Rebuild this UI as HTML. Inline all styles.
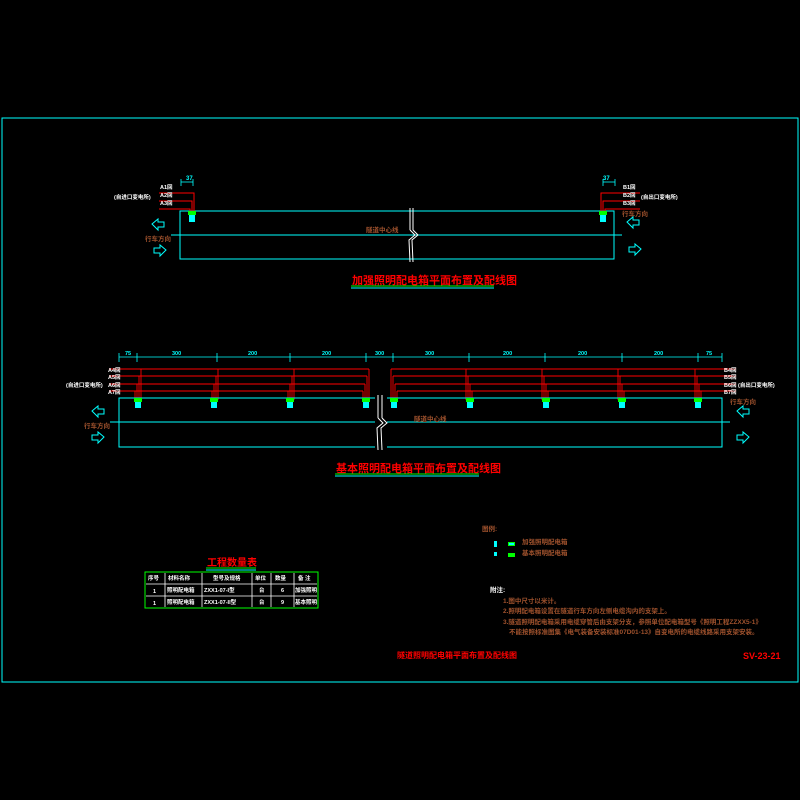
<!DOCTYPE html>
<html><head><meta charset="utf-8"><style>
html,body{margin:0;padding:0;background:#000;width:800px;height:800px;overflow:hidden}
text{font-family:"Liberation Sans","Noto Sans CJK SC",sans-serif;font-weight:bold}
</style></head><body>
<svg width="800" height="800" xmlns="http://www.w3.org/2000/svg">
<rect x="0" y="0" width="800" height="800" fill="#000"/>
<rect x="2" y="118" width="796" height="564" fill="none" stroke="#00ffff" stroke-width="1"/>

<!-- TOP DIAGRAM -->
<g stroke="#00ffff" fill="none" stroke-width="1">
<rect x="180" y="211" width="434" height="48"/>
<line x1="171" y1="235" x2="622" y2="235"/>
</g>
<g stroke="#fff" fill="none" stroke-width="1">
<line x1="410" y1="208" x2="410" y2="230"/><line x1="413" y1="208" x2="413" y2="230"/>
<polyline points="410,230 415,235 409,240 410,262"/><polyline points="413,230 418,235 412,240 413,262"/>
</g>
<g stroke="#ff0000" stroke-width="1" fill="none">
<polyline points="159,193 194,193 194,212"/>
<polyline points="159,201 192,201 192,212"/>
<polyline points="159,209 190,209 190,212"/>
<polyline points="640,193 601,193 601,212"/>
<polyline points="640,201 603,201 603,212"/>
<polyline points="640,209 605,209 605,212"/>
</g>
<rect x="188" y="211" width="8" height="4" fill="#00ff00"/><rect x="189" y="215" width="6" height="7" fill="#00ffff"/>
<rect x="599" y="211" width="8" height="4" fill="#00ff00"/><rect x="600" y="215" width="6" height="7" fill="#00ffff"/>
<g fill="#00ffff" font-size="6"><text x="186" y="180">37</text><text x="603" y="180">37</text></g>
<g stroke="#00ffff" stroke-width="0.8"><line x1="181" y1="182" x2="193" y2="182"/><line x1="181" y1="179" x2="181" y2="186"/><line x1="193" y1="179" x2="193" y2="186"/>
<line x1="603" y1="182" x2="615" y2="182"/><line x1="603" y1="179" x2="603" y2="186"/><line x1="615" y1="179" x2="615" y2="186"/></g>
<g fill="#fff" font-size="5.5">
<text x="160" y="189">A1回</text><text x="160" y="197">A2回</text><text x="160" y="205">A3回</text>
<text x="114" y="199">(自进口变电所)</text>
<text x="623" y="189">B1回</text><text x="623" y="197">B2回</text><text x="623" y="205">B3回</text>
<text x="641" y="199">(自出口变电所)</text>
</g>
<g fill="#a0522d" font-size="6.5"><text x="145" y="241">行车方向</text><text x="622" y="216">行车方向</text><text x="366" y="232">隧道中心线</text></g>
<g stroke="#00ffff" fill="none" stroke-width="1">
<polygon points="152,224 158,219 158,222 164,222 164,227 158,227 158,230"/>
<polygon points="166,250 160,245 160,248 154,248 154,253 160,253 160,256"/>
<polygon points="627,222 633,217 633,220 639,220 639,225 633,225 633,228"/>
<polygon points="641,249 635,244 635,247 629,247 629,252 635,252 635,255"/>
</g>
<text x="352" y="284" fill="#ff0000" font-size="11">加强照明配电箱平面布置及配线图</text>
<line x1="351" y1="286" x2="494" y2="286" stroke="#00ff00" stroke-width="1"/>
<line x1="351" y1="288" x2="494" y2="288" stroke="#00ffff" stroke-width="1"/>

<!-- BOTTOM DIAGRAM -->
<g stroke="#00ffff" stroke-width="0.8" fill="none">
<line x1="119" y1="357" x2="722" y2="357"/>
<line x1="119" y1="353" x2="119" y2="362"/><line x1="137" y1="353" x2="137" y2="362"/><line x1="217" y1="353" x2="217" y2="362"/><line x1="290" y1="353" x2="290" y2="362"/><line x1="366" y1="353" x2="366" y2="362"/><line x1="393" y1="353" x2="393" y2="362"/><line x1="469" y1="353" x2="469" y2="362"/><line x1="545" y1="353" x2="545" y2="362"/><line x1="622" y1="353" x2="622" y2="362"/><line x1="698" y1="353" x2="698" y2="362"/><line x1="722" y1="353" x2="722" y2="362"/>
</g>
<g fill="#00ffff" font-size="5.5">
<text x="125" y="355">75</text><text x="172" y="355">300</text><text x="248" y="355">200</text><text x="322" y="355">200</text><text x="375" y="355">300</text><text x="425" y="355">300</text><text x="503" y="355">200</text><text x="578" y="355">200</text><text x="654" y="355">200</text><text x="706" y="355">75</text>
</g>
<g stroke="#ff0000" stroke-width="0.9" fill="none">
<line x1="109" y1="369" x2="369" y2="369"/><line x1="109" y1="376" x2="367" y2="376"/><line x1="109" y1="384" x2="365" y2="384"/><line x1="109" y1="391" x2="363" y2="391"/>
<line x1="391" y1="369" x2="736" y2="369"/><line x1="393" y1="376" x2="736" y2="376"/><line x1="395" y1="384" x2="736" y2="384"/><line x1="397" y1="391" x2="736" y2="391"/>
<line x1="369" y1="369" x2="369" y2="400"/><line x1="367" y1="376" x2="367" y2="400"/><line x1="365" y1="384" x2="365" y2="400"/><line x1="363" y1="391" x2="363" y2="400"/>
<line x1="391" y1="369" x2="391" y2="400"/><line x1="393" y1="376" x2="393" y2="400"/><line x1="395" y1="384" x2="395" y2="400"/><line x1="397" y1="391" x2="397" y2="400"/>
<line x1="141" y1="369" x2="141" y2="400"/><line x1="139" y1="376" x2="139" y2="400"/><line x1="137" y1="384" x2="137" y2="400"/><line x1="135" y1="391" x2="135" y2="400"/>
<line x1="218" y1="369" x2="218" y2="400"/><line x1="216" y1="376" x2="216" y2="400"/><line x1="214" y1="384" x2="214" y2="400"/><line x1="212" y1="391" x2="212" y2="400"/>
<line x1="294" y1="369" x2="294" y2="400"/><line x1="292" y1="376" x2="292" y2="400"/><line x1="290" y1="384" x2="290" y2="400"/><line x1="288" y1="391" x2="288" y2="400"/>
<line x1="466" y1="369" x2="466" y2="400"/><line x1="468" y1="376" x2="468" y2="400"/><line x1="470" y1="384" x2="470" y2="400"/><line x1="472" y1="391" x2="472" y2="400"/>
<line x1="542" y1="369" x2="542" y2="400"/><line x1="544" y1="376" x2="544" y2="400"/><line x1="546" y1="384" x2="546" y2="400"/><line x1="548" y1="391" x2="548" y2="400"/>
<line x1="618" y1="369" x2="618" y2="400"/><line x1="620" y1="376" x2="620" y2="400"/><line x1="622" y1="384" x2="622" y2="400"/><line x1="624" y1="391" x2="624" y2="400"/>
<line x1="695" y1="369" x2="695" y2="400"/><line x1="697" y1="376" x2="697" y2="400"/><line x1="699" y1="384" x2="699" y2="400"/><line x1="701" y1="391" x2="701" y2="400"/>
</g>
<g stroke="#00ffff" fill="none" stroke-width="1">
<rect x="119" y="398" width="603" height="49"/>
<line x1="110" y1="422" x2="730" y2="422"/>
</g>
<g fill="#00ff00">
<rect x="134" y="398" width="8" height="4"/><rect x="210" y="398" width="8" height="4"/><rect x="286" y="398" width="8" height="4"/><rect x="362" y="398" width="8" height="4"/>
<rect x="390" y="398" width="8" height="4"/><rect x="466" y="398" width="8" height="4"/><rect x="542" y="398" width="8" height="4"/><rect x="618" y="398" width="8" height="4"/><rect x="694" y="398" width="8" height="4"/>
</g>
<g fill="#00ffff">
<rect x="135" y="402" width="6" height="6"/><rect x="211" y="402" width="6" height="6"/><rect x="287" y="402" width="6" height="6"/><rect x="363" y="402" width="6" height="6"/>
<rect x="391" y="402" width="6" height="6"/><rect x="467" y="402" width="6" height="6"/><rect x="543" y="402" width="6" height="6"/><rect x="619" y="402" width="6" height="6"/><rect x="695" y="402" width="6" height="6"/>
</g>
<rect x="375" y="395" width="12" height="55" fill="#000"/>
<g stroke="#fff" fill="none" stroke-width="1">
<line x1="378" y1="395" x2="378" y2="418"/><line x1="382" y1="395" x2="382" y2="418"/>
<polyline points="378,418 383,423 377,428 378,450"/><polyline points="382,418 387,423 381,428 382,450"/>
</g>
<g fill="#fff" font-size="5.5">
<text x="108" y="372">A4回</text><text x="108" y="379">A5回</text><text x="108" y="387">A6回</text><text x="108" y="394">A7回</text>
<text x="66" y="387">(自进口变电所)</text>
<text x="724" y="372">B4回</text><text x="724" y="379">B5回</text><text x="724" y="387">B6回</text><text x="724" y="394">B7回</text>
<text x="738" y="387">(自出口变电所)</text>
</g>
<g fill="#a0522d" font-size="6.5"><text x="84" y="428">行车方向</text><text x="730" y="404">行车方向</text><text x="414" y="421">隧道中心线</text></g>
<g stroke="#00ffff" fill="none" stroke-width="1">
<polygon points="92,411 98,406 98,409 104,409 104,414 98,414 98,417"/>
<polygon points="104,437 98,432 98,435 92,435 92,440 98,440 98,443"/>
<polygon points="737,411 743,406 743,409 749,409 749,414 743,414 743,417"/>
<polygon points="749,437 743,432 743,435 737,435 737,440 743,440 743,443"/>
</g>
<text x="336" y="472" fill="#ff0000" font-size="11">基本照明配电箱平面布置及配线图</text>
<line x1="335" y1="474" x2="479" y2="474" stroke="#00ff00" stroke-width="1"/>
<line x1="335" y1="476" x2="479" y2="476" stroke="#00ffff" stroke-width="1"/>

<!-- TABLE -->
<text x="207" y="566" fill="#ff0000" font-size="10">工程数量表</text>
<line x1="206" y1="568" x2="256" y2="568" stroke="#00ff00"/>
<line x1="206" y1="570" x2="256" y2="570" stroke="#00ffff"/>
<rect x="145" y="572" width="173" height="36" stroke="#00ff00" fill="none" stroke-width="1"/>
<g stroke="#fff" stroke-width="0.8">
<line x1="146" y1="584" x2="317" y2="584"/><line x1="146" y1="596" x2="317" y2="596"/>
<line x1="165" y1="573" x2="165" y2="607"/><line x1="202" y1="573" x2="202" y2="607"/><line x1="252" y1="573" x2="252" y2="607"/><line x1="271" y1="573" x2="271" y2="607"/><line x1="294" y1="573" x2="294" y2="607"/>
</g>
<g fill="#fff" font-size="5.5">
<text x="148" y="580">序号</text><text x="168" y="580">材料名称</text><text x="213" y="580">型号及规格</text><text x="255" y="580">单位</text><text x="275" y="580">数量</text><text x="298" y="580">备 注</text>
<text x="153" y="593">1</text><text x="167" y="592">照明配电箱</text><text x="204" y="592">ZXX1-07-I型</text><text x="259" y="592">台</text><text x="281" y="592">6</text><text x="295" y="592">加强照明</text>
<text x="153" y="605">1</text><text x="167" y="604">照明配电箱</text><text x="204" y="604">ZXX1-07-II型</text><text x="259" y="604">台</text><text x="281" y="604">9</text><text x="295" y="604">基本照明</text>
</g>

<!-- LEGEND / NOTES -->
<g fill="#a0522d" font-size="6.5">
<text x="482" y="531">图例:</text>
<text x="522" y="544">加强照明配电箱</text>
<text x="522" y="555">基本照明配电箱</text>
<text x="503" y="603">1.图中尺寸以米计。</text>
<text x="503" y="613">2.照明配电箱设置在隧道行车方向左侧电缆沟内的支架上。</text>
<text x="503" y="624">3.隧道照明配电箱采用电缆穿管后由支架分支，参照单位配电箱型号《照明工程ZZXX5-1》</text>
<text x="509" y="634">不能按照标准图集《电气装备安装标准07D01-13》自变电所的电缆线路采用支架安装。</text>
</g>
<text x="490" y="592" fill="#fff" font-size="6.5">附注:</text>
<rect x="494" y="541" width="3" height="6" fill="#00ffff"/><rect x="494" y="552" width="3" height="4" fill="#00ffff"/>
<rect x="508" y="542" width="7" height="4" fill="#00ff00"/><rect x="508" y="553" width="7" height="4" fill="#00ff00"/>
<rect x="509" y="543" width="5" height="2" fill="#00ffff"/>

<text x="397" y="658" fill="#ff0000" font-size="8">隧道照明配电箱平面布置及配线图</text>
<text x="743" y="659" fill="#ff0000" font-size="9" font-family="Liberation Serif">SV-23-21</text>
</svg>
</body></html>
